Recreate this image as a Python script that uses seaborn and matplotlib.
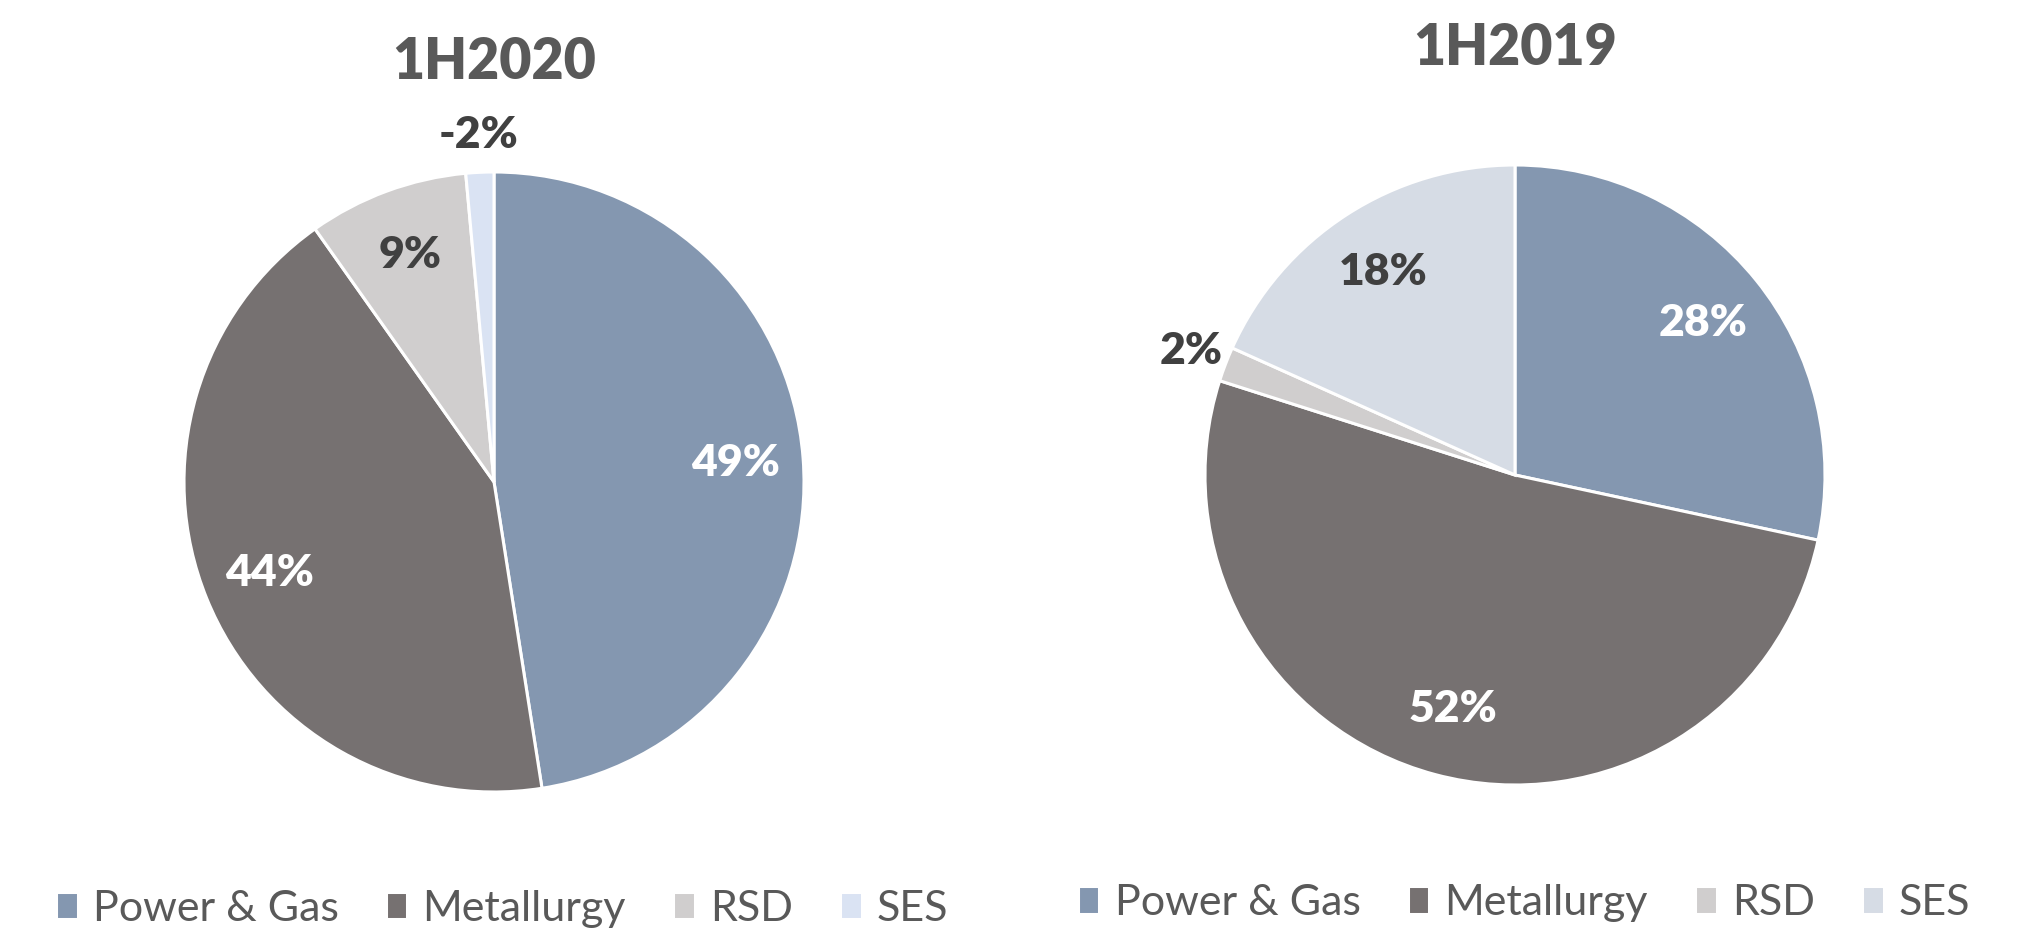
import numpy as np
import seaborn as sns
import matplotlib.pyplot as plt

# data
segments = ["Power & Gas", "Metallurgy", "RSD", "SES"]
share_2020 = [49, 44, 8.6, -1.5]
share_2019 = [28.4, 51.6, 1.8, 18.3]
colors_2020 = ["#8497B0", "#767171", "#D0CECE", "#DAE3F3"]
colors_2019 = ["#8497B0", "#767171", "#D0CECE", "#D6DCE5"]

sns.set_theme(style="white")
plt.rcParams["font.family"] = ["Lato", "DejaVu Sans"]

fig = plt.figure(figsize=(20.28, 9.31), dpi=100)
fig.patch.set_facecolor("white")


def draw_pie(rect, values, colors, title, title_y):
    ax = fig.add_axes(rect)
    wedges, _ = ax.pie(np.abs(values), colors=colors, startangle=90, counterclock=False,
                       wedgeprops=dict(edgecolor="white", linewidth=2.2))
    ax.set_xlim(-1, 1)
    ax.set_ylim(-1, 1)
    ax.set_aspect("equal")
    for w, v, c in zip(wedges, values, colors):
        mid = np.deg2rad((w.theta1 + w.theta2) / 2)
        small = abs(w.theta2 - w.theta1) < 10
        r = 1.12 if small else 0.78
        dark = c in ("#8497B0", "#767171")
        ax.text(r * np.cos(mid), r * np.sin(mid), f"{round(v):d}%", ha="center", va="center",
                fontsize=32, fontweight="heavy", color="white" if dark else "#404040",
                clip_on=False)
    cx = rect[0] + rect[2] / 2
    fig.text(cx, title_y, title, ha="center", va="center", fontsize=40,
             fontweight="heavy", color="#595959")
    return wedges


w_left = draw_pie([184 / 2028, 139 / 931, 620 / 2028, 620 / 931], share_2020, colors_2020, "1H2020", 0.933)
w_right = draw_pie([1205 / 2028, 146 / 931, 620 / 2028, 620 / 931], share_2019, colors_2019, "1H2019", 0.948)

for handles, xc, yc in [(w_left, 0.2476, 0.024), (w_right, 0.7515, 0.030)]:
    fig.legend(handles, segments, loc="center", bbox_to_anchor=(xc, yc), ncol=4, frameon=False,
               fontsize=31, labelcolor="#595959", handlelength=0.5, handleheight=0.6,
               handletextpad=0.35, columnspacing=1.1, borderaxespad=0)

fig.savefig("out.png", dpi=100, facecolor="white")
